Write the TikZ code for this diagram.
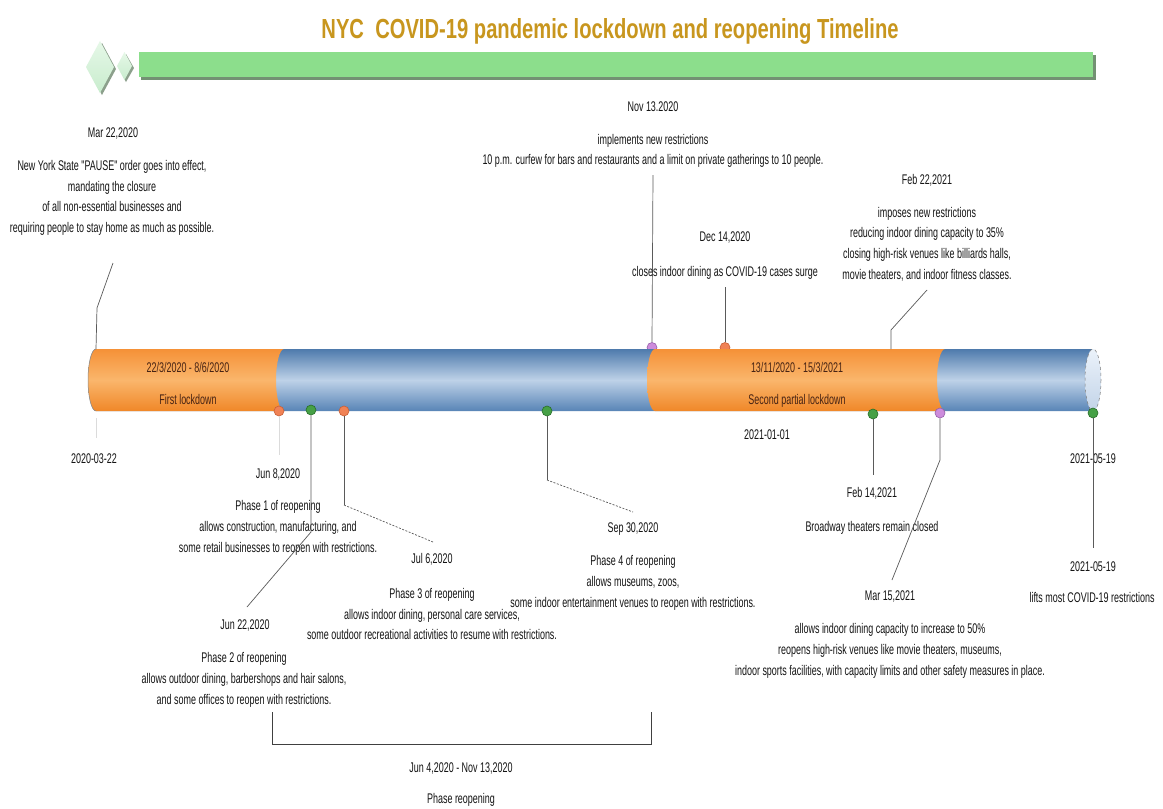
\documentclass[tikz,border=0pt]{standalone}
\usepackage{fontspec}
\usepackage{graphicx}
\usetikzlibrary{shapes.geometric}
\newfontfamily\narrowfont[FakeStretch=0.64]{Liberation Sans}
\newfontfamily\titlefont{Liberation Sans}
\definecolor{titleC}{RGB}{200,150,30}
\definecolor{hdrGreen}{RGB}{140,222,140}
\definecolor{hdrShadow}{RGB}{115,145,115}
\definecolor{diaFill}{RGB}{200,236,205}
\definecolor{diaLight}{RGB}{230,248,232}
\definecolor{diaShadow}{RGB}{140,160,140}
\definecolor{blueTop}{RGB}{78,122,172}
\definecolor{blueMid}{RGB}{190,210,232}
\definecolor{blueBot}{RGB}{88,132,182}
\definecolor{orTop}{RGB}{245,145,55}
\definecolor{orMid}{RGB}{250,182,108}
\definecolor{orBot}{RGB}{240,135,40}
\definecolor{capTop}{RGB}{235,242,250}
\definecolor{capBot}{RGB}{195,212,232}
\definecolor{barTxt}{RGB}{70,35,20}
\definecolor{mOrange}{RGB}{240,130,85}
\definecolor{mOrangeD}{RGB}{200,95,55}
\definecolor{mGreen}{RGB}{70,160,70}
\definecolor{mGreenD}{RGB}{40,110,40}
\definecolor{mPurple}{RGB}{205,140,220}
\definecolor{mPurpleD}{RGB}{150,95,170}
\definecolor{lineC}{RGB}{90,90,90}
\definecolor{txtC}{RGB}{20,20,20}
\begin{document}
\begin{tikzpicture}[x=1pt,y=-1pt,
  txt/.style={font=\narrowfont\fontsize{14}{20.7}\selectfont, align=center, inner sep=0pt, text=txtC},
  datelbl/.style={txt, anchor=base},
  barlbl/.style={txt, text=barTxt, anchor=base},
  conn/.style={draw=lineC, line width=0.7pt},
  dconn/.style={conn, dash pattern=on 2pt off 1.5pt},
  faint/.style={draw=lineC!22, line width=0.7pt},
  mk/.style={circle, minimum size=10pt, inner sep=0pt, line width=0.6pt},
  mkO/.style={mk, fill=mOrange, draw=mOrangeD},
  mkG/.style={mk, fill=mGreen, draw=mGreenD},
  mkP/.style={mk, fill=mPurple, draw=mPurpleD},
  bluebar/.style={top color=blueTop, bottom color=blueBot, middle color=blueMid},
  orangebar/.style={top color=orTop, bottom color=orBot, middle color=orMid}
]
\useasboundingbox (0,0) rectangle (1163,809);
\fill[white] (0,0) rectangle (1163,809);

% title and header
\node[anchor=base, text=titleC] (title) at (610,38)
  {\resizebox{577pt}{20pt}{\titlefont\bfseries NYC\ \ COVID-19 pandemic lockdown and reopening Timeline}};
\fill[hdrShadow] (141,55) rectangle (1096,80);
\fill[hdrGreen] (139,52) rectangle (1093,77);
% diamonds
\fill[diaShadow] (102,43) -- (116,69) -- (102,95) -- (88,69) -- cycle;
\shade[top color=diaLight, bottom color=diaFill] (100,41) -- (114,67) -- (100,93) -- (86,67) -- cycle;
\fill[diaShadow] (126,54) -- (134,68) -- (126,82) -- (119,68) -- cycle;
\shade[top color=diaLight, bottom color=diaFill] (124.5,52) -- (132,66) -- (124.5,80) -- (117,66) -- cycle;

% markers above the bar (partly hidden behind it)
\node[mkP] (mNov) at (652,347.5) {};
\node[mkO] (mDec) at (725,347.5) {};

% timeline cylinder
\shade[bluebar] (96,349) arc[start angle=270,end angle=90,x radius=8,y radius=31] -- (1093,411) -- (1093,349) -- cycle;
\shade[orangebar] (96,349) arc[start angle=270,end angle=90,x radius=8,y radius=31] -- (284,411) arc[start angle=90,end angle=270,x radius=8,y radius=31] -- cycle;
\shade[orangebar] (655,349) arc[start angle=270,end angle=90,x radius=8,y radius=31] -- (945,411) arc[start angle=90,end angle=270,x radius=8,y radius=31] -- cycle;
\draw[lineC!70, line width=0.5pt] (96,349) arc[start angle=270,end angle=90,x radius=8,y radius=31];
\shadedraw[top color=capTop, bottom color=capBot, draw=lineC!80, dashed, line width=0.5pt] (1093,380) ellipse [x radius=8, y radius=31];

% bar labels
\node[barlbl] (l1a) at (188,372) {22/3/2020 - 8/6/2020};
\node[barlbl] (l1b) at (188,404) {First lockdown};
\node[barlbl] (l2a) at (797,372) {13/11/2020 - 15/3/2021};
\node[barlbl] (l2b) at (797,404) {Second partial lockdown};

% axis labels
\node[datelbl] (ax1) at (94,463) {2020-03-22};
\node[datelbl] (ax2) at (767,439) {2021-01-01};
\node[datelbl] (ax3) at (1093,463) {2021-05-19};

% markers below the bar
\node[mkO] (mJun8) at (279,411) {};
\node[mkG] (mJun22) at (311,410) {};
\node[mkO] (mJul) at (344,411) {};
\node[mkG] (mSep) at (547,411) {};
\node[mkG] (mFeb14) at (873,414) {};
\node[mkP] (mMar15) at (940,413) {};
\node[mkG] (mMay) at (1093,413) {};

% --- Mar 22, 2020
\node[datelbl] (dMar22) at (113,137) {Mar 22,2020};
\node[txt] (tMar22) at (112,198) {New York State "PAUSE" order goes into effect,\\mandating the closure\\of all non-essential businesses and\\requiring people to stay home as much as possible.};
\coordinate (cMar22a) at (96,349);
\coordinate (cMar22b) at (97,308);
\coordinate (cMar22c) at (113,263);
\draw[conn] (cMar22a) -- (cMar22b) -- (cMar22c);
\coordinate (fMar22a) at (96,418);
\coordinate (fMar22b) at (96,438);
\draw[faint] (fMar22a) -- (fMar22b);

% --- Nov 13, 2020
\node[datelbl] (dNov) at (653,111) {Nov 13.2020};
\node[txt] (tNov) at (653,151) {implements new restrictions\\10 p.m. curfew for bars and restaurants and a limit on private gatherings to 10 people.};
\coordinate (cNov) at (653,175);
\draw[conn] (mNov.north) -- (cNov);

% --- Dec 14, 2020
\node[datelbl] (dDec) at (725,241) {Dec 14,2020};
\node[datelbl] (tDec) at (725,276) {closes indoor dining as COVID-19 cases surge};
\coordinate (cDec) at (725,287);
\draw[conn] (mDec.north) -- (cDec);

% --- Feb 22, 2021
\node[datelbl] (dFeb22) at (927,184) {Feb 22,2021};
\node[txt] (tFeb22) at (927,244) {imposes new restrictions\\reducing indoor dining capacity to 35\%\\closing high-risk venues like billiards halls,\\movie theaters, and indoor fitness classes.};
\coordinate (cFeb22a) at (891,349);
\coordinate (cFeb22b) at (891,330);
\coordinate (cFeb22c) at (927,290);
\draw[conn] (cFeb22a) -- (cFeb22b) -- (cFeb22c);

% --- Jun 8, 2020
\node[datelbl] (dJun8) at (278,478) {Jun 8,2020};
\node[txt] (tJun8) at (278,528) {Phase 1 of reopening\\allows construction, manufacturing, and\\some retail businesses to reopen with restrictions.};
\coordinate (cJun8) at (279,455);
\draw[faint] (mJun8.south) -- (cJun8);

% --- Jun 22, 2020
\node[datelbl] (dJun22) at (245,629) {Jun 22,2020};
\node[txt] (tJun22) at (244,680) {Phase 2 of reopening\\allows outdoor dining, barbershops and hair salons,\\and some offices to reopen with restrictions.};
\coordinate (cJun22a) at (311,532);
\coordinate (cJun22b) at (247,607);
\draw[conn] (mJun22.south) -- (cJun22a) -- (cJun22b);

% --- Jul 6, 2020
\node[datelbl] (dJul) at (432,563) {Jul 6,2020};
\node[txt] (tJul) at (432,614) {Phase 3 of reopening\\allows indoor dining, personal care services,\\some outdoor recreational activities to resume with restrictions.};
\coordinate (cJula) at (344,505);
\coordinate (cJulb) at (433,542);
\draw[conn] (mJul.south) -- (cJula);
\draw[dconn] (cJula) -- (cJulb);

% --- Sep 30, 2020
\node[datelbl] (dSep) at (633,532) {Sep 30,2020};
\node[txt] (tSep) at (633,583) {Phase 4 of reopening\\allows museums, zoos,\\some indoor entertainment venues to reopen with restrictions.};
\coordinate (cSepa) at (547,480);
\coordinate (cSepb) at (633,512);
\draw[conn] (mSep.south) -- (cSepa);
\draw[dconn] (cSepa) -- (cSepb);

% --- Feb 14, 2021
\node[datelbl] (dFeb14) at (872,497) {Feb 14,2021};
\node[datelbl] (tFeb14) at (872,531) {Broadway theaters remain closed};
\coordinate (cFeb14) at (873,475);
\draw[conn] (mFeb14.south) -- (cFeb14);

% --- Mar 15, 2021
\node[datelbl] (dMar15) at (890,600) {Mar 15,2021};
\node[txt] (tMar15) at (890,651) {allows indoor dining capacity to increase to 50\%\\reopens high-risk venues like movie theaters, museums,\\indoor sports facilities, with capacity limits and other safety measures in place.};
\coordinate (cMar15a) at (940,460);
\coordinate (cMar15b) at (892,580);
\draw[conn] (mMar15.south) -- (cMar15a) -- (cMar15b);

% --- May 19, 2021
\node[datelbl] (dMay) at (1093,571) {2021-05-19};
\node[datelbl] (tMay) at (1092,602) {lifts most COVID-19 restrictions};
\coordinate (cMay) at (1093,548);
\draw[conn] (mMay.south) -- (cMay);

% --- bracket: phase reopening
\coordinate (bL) at (272,712);
\coordinate (bLb) at (272,744);
\coordinate (bRb) at (651,744);
\coordinate (bR) at (651,712);
\draw[draw=black!75, line width=1pt] (bL) -- (bLb) -- (bRb) -- (bR);
\node[datelbl] (dPhase) at (461,772) {Jun 4,2020 - Nov 13,2020};
\node[datelbl] (tPhase) at (461,803) {Phase reopening};
\end{tikzpicture}
\end{document}
